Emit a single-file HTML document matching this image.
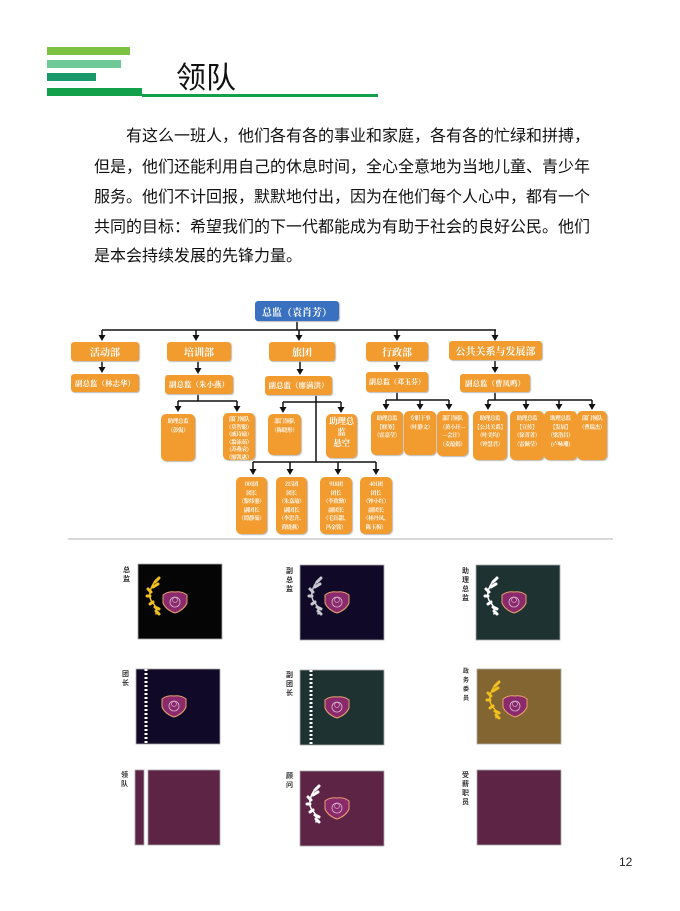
<!DOCTYPE html>
<html><head><meta charset="utf-8"><style>
body{margin:0;width:680px;height:911px;background:#fff;position:relative;overflow:hidden;font-family:"Liberation Sans","Noto Sans CJK SC",sans-serif}
.a{position:absolute}
.p{position:absolute;left:94px;font-size:16px;line-height:30px;color:#111;white-space:nowrap;letter-spacing:0}
.b{position:absolute;background:#f29b2e;color:#fff;border-radius:3px;display:flex;align-items:center;justify-content:center;text-align:center;font-weight:bold;font-family:"Noto Serif CJK SC",serif;box-shadow:1px 1px 1px #bbb;white-space:nowrap}
.s{font-size:5.5px;line-height:8.5px;align-items:flex-start;padding-top:3px;box-sizing:border-box;border-radius:5px;letter-spacing:-0.3px}
.r{font-size:10px}
.lab{position:absolute;font-size:7px;line-height:9px;width:8px;color:#333;font-weight:bold}
</style></head><body>
<div class="a" style="left:47px;top:47px;width:83px;height:8px;background:#7dc142"></div>
<div class="a" style="left:47px;top:60px;width:74px;height:8px;background:#6fc997"></div>
<div class="a" style="left:47px;top:73px;width:49px;height:8px;background:#1a9a6a"></div>
<div class="a" style="left:47px;top:88px;width:95px;height:8px;background:#13a04a"></div>
<div class="a" style="left:142px;top:94px;width:236px;height:3px;background:#13a04a"></div>
<div class="a" style="left:176px;top:57px;font-size:30px;line-height:36px;color:#111;font-family:'Noto Sans CJK SC',sans-serif">领队</div>

<div class="p" style="top:122px;left:126px">有这么一班人，他们各有各的事业和家庭，各有各的忙绿和拼搏，</div>
<div class="p" style="top:153px">但是，他们还能利用自己的休息时间，全心全意地为当地儿童、青少年</div>
<div class="p" style="top:183px">服务。他们不计回报，默默地付出，因为在他们每个人心中，都有一个</div>
<div class="p" style="top:213px">共同的目标：希望我们的下一代都能成为有助于社会的良好公民。他们</div>
<div class="p" style="top:242px">是本会持续发展的先锋力量。</div>

<svg class="a" style="left:0;top:0" width="680" height="911">
<defs>
<path id="t" d="M-3.5,-6 L3.5,-6 L0,0z" fill="#111"/>
<g id="sh">
<path d="M0,-10 Q7,-11 12,-7 L12,1 Q9,8 0,11 Q-9,8 -12,1 L-12,-7 Q-7,-11 0,-10z" fill="#8a2a6a" stroke="#e8a070" stroke-width="1"/>
<circle cx="0" cy="0" r="5" fill="none" stroke="#d8b8d8" stroke-width="0.8"/>
<circle cx="0" cy="-2" r="2.5" fill="none" stroke="#d8b8d8" stroke-width="0.6"/>
</g>
<g id="lr" fill="none" stroke-width="3" stroke-linecap="round">
<path d="M0,-18 Q-10,-5 -4,4 Q2,10 0,16" stroke-width="1.5"/>
<path d="M-1,-16l4,-4M-3,-11l5,-3M-5,-6l-3,-3M-6,-2l-3,0M-3,4l-3,2M-1,9l4,2M0,13l3,3"/>
</g>
</defs>
<g stroke="#111" stroke-width="1.5" fill="none">
<path d="M297 321V330M102 330H496"/>
<path d="M102 330V336M196 330V336M299 330V336M397 330V336M495 330V336"/>
<path d="M102 361V368M198 361V369M300 361V370M397 361V366M495 361V368"/>
<path d="M198 394V401M178 401H237M283 402H341M397 392V400M386 400H449M495 392V400M488 400H592"/>
<path d="M178 401V407M237 401V407M283 402V408M341 402V408M386 400V405M420 400V405M449 400V405M488 400V405M526 400V405M559 400V405M592 400V405"/>
<path d="M316 395V462M253 462H376"/>
<path d="M253 462V469M290 462V469M338 462V469M376 462V469"/>
</g>
<g>
<use href="#t" x="102" y="341"/><use href="#t" x="196" y="341"/><use href="#t" x="299" y="341"/><use href="#t" x="397" y="341"/><use href="#t" x="495" y="341"/>
<use href="#t" x="102" y="373"/><use href="#t" x="198" y="374"/><use href="#t" x="300" y="375"/><use href="#t" x="397" y="371"/><use href="#t" x="495" y="373"/>
<use href="#t" x="178" y="412"/><use href="#t" x="237" y="412"/><use href="#t" x="283" y="413"/><use href="#t" x="341" y="413"/>
<use href="#t" x="386" y="410"/><use href="#t" x="420" y="410"/><use href="#t" x="449" y="410"/>
<use href="#t" x="488" y="410"/><use href="#t" x="526" y="410"/><use href="#t" x="559" y="410"/><use href="#t" x="592" y="410"/>
<use href="#t" x="253" y="475"/><use href="#t" x="290" y="475"/><use href="#t" x="338" y="475"/><use href="#t" x="376" y="475"/>
</g>
<line x1="68" y1="539" x2="613" y2="539" stroke="#ccc" stroke-width="1.5"/>
<g stroke="#aaa" stroke-width="0.8">
<rect x="138" y="564" width="84" height="75" fill="#050505"/>
<rect x="300" y="565" width="84" height="75" fill="#100a28"/>
<rect x="476" y="565" width="84" height="75" fill="#1e3232"/>
<rect x="136" y="669" width="84" height="75" fill="#100a28"/>
<rect x="300" y="670" width="84" height="75" fill="#1e3232"/>
<rect x="477" y="669" width="84" height="75" fill="#826530"/>
<rect x="135" y="770" width="9" height="75" fill="#5e2445"/>
<rect x="148" y="770" width="72" height="75" fill="#5e2445"/>
<rect x="300" y="771" width="84" height="75" fill="#5e2445"/>
<rect x="477" y="770" width="84" height="75" fill="#5e2445"/>
</g>
<line x1="146" y1="669" x2="146" y2="744" stroke="#fff" stroke-width="3" stroke-dasharray="2 2"/>
<line x1="311" y1="670" x2="311" y2="745" stroke="#fff" stroke-width="3" stroke-dasharray="2 2"/>
<use href="#sh" x="175" y="602"/><use href="#sh" x="337" y="602"/><use href="#sh" x="514" y="602"/>
<use href="#sh" x="174" y="706"/><use href="#sh" x="337" y="707"/><use href="#sh" x="515" y="706"/>
<use href="#sh" x="337" y="808"/>
<use href="#lr" x="156" y="598" stroke="#f0c020"/>
<use href="#lr" x="318" y="598" stroke="#c8c8d0"/>
<use href="#lr" x="494" y="598" stroke="#fff"/>
<use href="#lr" x="496" y="702" stroke="#f0c020"/>
<use href="#lr" x="316" y="806" stroke="#fff"/>
</svg>

<div class="lab" style="left:123px;top:566px">总监</div>
<div class="lab" style="left:286px;top:567px">副总监</div>
<div class="lab" style="left:462px;top:567px">助理总监</div>
<div class="lab" style="left:122px;top:670px">团长</div>
<div class="lab" style="left:286px;top:671px">副团长</div>
<div class="lab" style="left:463px;top:668px;font-size:6px">政务委员</div>
<div class="lab" style="left:121px;top:771px">领队</div>
<div class="lab" style="left:286px;top:772px">顾问</div>
<div class="lab" style="left:462px;top:771px">受薪职员</div>

<div class="b" style="left:255px;top:301px;width:84px;height:20px;background:#3a70c0;font-size:10px">总监（袁肖芳）</div>
<div class="b r" style="left:71px;top:342px;width:68px;height:19px">活动部</div>
<div class="b r" style="left:167px;top:342px;width:64px;height:19px">培训部</div>
<div class="b r" style="left:269px;top:342px;width:66px;height:19px">旅团</div>
<div class="b r" style="left:366px;top:342px;width:62px;height:19px">行政部</div>
<div class="b r" style="left:449px;top:341px;width:93px;height:19px">公共关系与发展部</div>
<div class="b" style="left:71px;top:374px;width:68px;height:18px;font-size:7.5px">副总监（林志华）</div>
<div class="b" style="left:165px;top:375px;width:68px;height:19px;font-size:7.5px">副总监（朱小燕）</div>
<div class="b" style="left:265px;top:376px;width:67px;height:19px;font-size:7.5px">副总监（廖满洪）</div>
<div class="b" style="left:366px;top:372px;width:62px;height:20px;font-size:7px">副总监（邓玉芬）</div>
<div class="b" style="left:460px;top:374px;width:70px;height:18px;font-size:7.5px">副总监（曹凤鸣）</div>

<div class="b s" style="left:161px;top:414px;width:34px;height:47px">助理总监<br>（彭侃）</div>
<div class="b s" style="left:223px;top:413px;width:32px;height:47px;line-height:7.5px">部门领队<br>（莫智聪）<br>（戚诗瑜）<br>（翁泳茹）<br>(苏燕袁)<br>（廖凯惠）</div>
<div class="b s" style="left:268px;top:414px;width:33px;height:41px">部门领队<br>（陈晓彤）</div>
<div class="b s" style="left:326px;top:414px;width:31px;height:44px;font-size:8.5px;line-height:11px;padding-top:2px">助理总<br>监<br>悬空</div>
<div class="b s" style="left:371px;top:411px;width:32px;height:44px">助理总监<br>【财务】<br>（霍嘉莹）</div>
<div class="b s" style="left:404px;top:411px;width:32px;height:44px">专职干事<br>（叶静文）</div>
<div class="b s" style="left:437px;top:411px;width:31px;height:45px">部门领队<br>（黄小玨—<br>—会计）<br>（麦蕴娟）</div>
<div class="b s" style="left:473px;top:411px;width:34px;height:49px">助理总监<br>【公共关系】<br>（叶美均）<br>（钟慧君）</div>
<div class="b s" style="left:510px;top:411px;width:34px;height:49px">助理总监<br>【宣传】<br>（徐菁菁）<br>（雷佩莹）</div>
<div class="b s" style="left:544px;top:411px;width:33px;height:49px">助理总监<br>【发展】<br>（梁洛昌）<br>(卢咏珊)</div>
<div class="b s" style="left:577px;top:411px;width:30px;height:49px">部门领队<br>（曹瑞杰）</div>

<div class="b s" style="left:236px;top:477px;width:31px;height:57px">001团<br>团长<br>（黎炜鎏）<br>副团长<br>（谭静茹）</div>
<div class="b s" style="left:276px;top:477px;width:31px;height:57px">215团<br>团长<br>（朱嘉瑜）<br>副团长<br>（李思升、<br>黄晓燕）</div>
<div class="b s" style="left:320px;top:477px;width:32px;height:57px">918团<br>团长<br>（李致勤）<br>副团长<br>（毛钰甜、<br>冯金铭）</div>
<div class="b s" style="left:360px;top:477px;width:32px;height:57px">401团<br>团长<br>（钟小红）<br>副团长<br>（林丹凤、<br>陈玉梅）</div>

<div class="a" style="left:619px;top:855px;font-size:12px;color:#222">12</div>
</body></html>
